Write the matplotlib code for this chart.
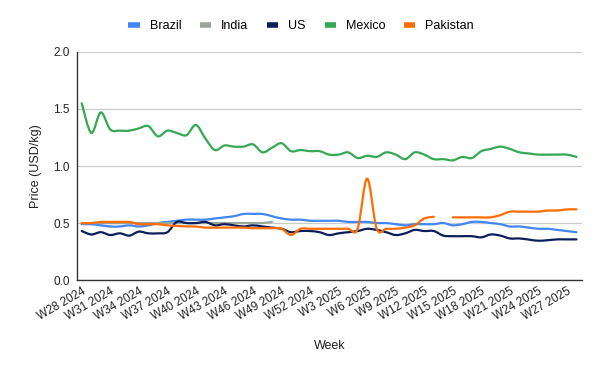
import numpy as np
import matplotlib
matplotlib.use("Agg")
import matplotlib.pyplot as plt
from matplotlib.path import Path
from matplotlib.patches import PathPatch
from matplotlib.lines import Line2D

# weekly prices, W28 2024 .. W28 2025
weeks = [f"W{w} 2024" for w in range(28, 53)] + [f"W{w} 2025" for w in range(1, 29)]

brazil = [0.49, 0.49, 0.48, 0.47, 0.47, 0.48, 0.47, 0.48, 0.50, 0.51,
          0.52, 0.53, 0.53, 0.53, 0.54, 0.55, 0.56, 0.58, 0.58, 0.58,
          0.56, 0.54, 0.53, 0.53, 0.52, 0.52, 0.52, 0.52, 0.51, 0.51,
          0.51, 0.50, 0.50, 0.49, 0.48, 0.49, 0.49, 0.49, 0.50, 0.48,
          0.49, 0.51, 0.51, 0.50, 0.49, 0.47, 0.47, 0.46, 0.45, 0.45,
          0.44, 0.43, 0.42]
india = [0.50, 0.50, 0.50, 0.50, 0.50, 0.50, 0.50, 0.50, 0.50, 0.50,
         0.50, 0.50, 0.50, 0.50, 0.50, 0.50, 0.50, 0.50, 0.50, 0.50,
         0.51] + [np.nan] * 32
us = [0.43, 0.40, 0.42, 0.395, 0.41, 0.39, 0.425, 0.41, 0.41, 0.42,
      0.51, 0.50, 0.50, 0.51, 0.48, 0.49, 0.48, 0.47, 0.48, 0.47,
      0.46, 0.45, 0.42, 0.43, 0.43, 0.42, 0.395, 0.41, 0.42, 0.43,
      0.45, 0.44, 0.42, 0.395, 0.41, 0.44, 0.43, 0.43, 0.39, 0.385,
      0.385, 0.385, 0.375, 0.40, 0.39, 0.365, 0.365, 0.355, 0.345, 0.35,
      0.357, 0.357, 0.357]
mexico = [1.55, 1.29, 1.47, 1.32, 1.31, 1.31, 1.33, 1.35, 1.26, 1.31,
          1.29, 1.27, 1.36, 1.24, 1.14, 1.18, 1.17, 1.17, 1.19, 1.12,
          1.16, 1.20, 1.13, 1.14, 1.13, 1.13, 1.10, 1.10, 1.12, 1.07,
          1.09, 1.08, 1.12, 1.10, 1.06, 1.12, 1.10, 1.06, 1.06, 1.05,
          1.08, 1.07, 1.13, 1.15, 1.17, 1.15, 1.12, 1.11, 1.10, 1.10,
          1.10, 1.10, 1.08]
pakistan = [0.50, 0.50, 0.51, 0.51, 0.51, 0.51, 0.49, 0.49, 0.49, 0.48,
            0.475, 0.47, 0.47, 0.46, 0.46, 0.46, 0.46, 0.46, 0.455, 0.455,
            0.455, 0.45, 0.395, 0.45, 0.45, 0.45, 0.45, 0.45, 0.45, 0.45,
            0.89, 0.45, 0.45, 0.45, 0.46, 0.48, 0.54, 0.555, np.nan, 0.55,
            0.55, 0.55, 0.55, 0.55, 0.57, 0.60, 0.60, 0.60, 0.60, 0.61,
            0.61, 0.62, 0.62]

series = [
    ("Brazil", brazil, "#4285f4"),
    ("India", india, "#9aa69a"),
    ("US", us, "#0b1e5b"),
    ("Mexico", mexico, "#34a853"),
    ("Pakistan", pakistan, "#ff6d01"),
]


def smooth_path(x, y):
    '''bezier path through the points (catmull-rom style), split at gaps'''
    verts, codes = [], []
    ok = ~np.isnan(y)
    i = 0
    n = len(y)
    while i < n:
        if not ok[i]:
            i += 1
            continue
        j = i
        while j < n and ok[j]:
            j += 1
        px, py = x[i:j], y[i:j]
        verts.append((px[0], py[0]))
        codes.append(Path.MOVETO)
        for k in range(len(px) - 1):
            k0 = max(k - 1, 0)
            k3 = min(k + 2, len(px) - 1)
            c1 = (px[k] + (px[k + 1] - px[k0]) / 6, py[k] + (py[k + 1] - py[k0]) / 6)
            c2 = (px[k + 1] - (px[k3] - px[k]) / 6, py[k + 1] - (py[k3] - py[k]) / 6)
            verts += [c1, c2, (px[k + 1], py[k + 1])]
            codes += [Path.CURVE4] * 3
        i = j
    return Path(verts, codes)


plt.rcParams['font.family'] = ['Liberation Sans', 'DejaVu Sans']

fig = plt.figure(figsize=(6, 3.71), dpi=100)
ax = fig.add_axes([0.128, 0.245, 0.842, 0.615])

x = np.arange(len(weeks), dtype=float)
for name, vals, color in series:
    p = smooth_path(x, np.array(vals, dtype=float))
    ax.add_patch(PathPatch(p, facecolor='none', edgecolor=color, lw=1.6,
                           capstyle='round', joinstyle='round'))

ax.set_xlim(-0.52, len(weeks) - 1 + 0.58)
ax.set_ylim(0, 2.0)
ax.set_yticks([0, 0.5, 1.0, 1.5, 2.0])
ax.set_yticklabels(['0.0', '0.5', '1.0', '1.5', '2.0'])
ticks = list(range(0, len(weeks), 3))
ax.set_xticks(ticks)
ax.set_xticklabels([weeks[t] for t in ticks], rotation=30, ha='right',
                   rotation_mode='anchor')
ax.tick_params(length=0, labelsize=8.5, colors='#222222', pad=5)
ax.tick_params(axis='x', pad=4)

ax.grid(axis='y', color='#cccccc', lw=0.9)
ax.set_axisbelow(True)
for s in ['top', 'right']:
    ax.spines[s].set_visible(False)
ax.spines['left'].set_color('#333333')
ax.spines['bottom'].set_color('#333333')
ax.spines['left'].set_linewidth(1)
ax.spines['bottom'].set_linewidth(1)

ax.set_xlabel('Week', fontsize=9, color='#222222', labelpad=12)
ax.set_ylabel('Price (USD/kg)', fontsize=9, color='#222222', labelpad=8)

handles = [Line2D([], [], color=c, lw=4, solid_capstyle='butt') for _, _, c in series]
fig.legend(handles, [s[0] for s in series], loc='center', bbox_to_anchor=(0.502, 0.93),
           ncol=5, frameon=False, fontsize=9, handlelength=0.9, handletextpad=0.8,
           columnspacing=1.5)

fig.savefig('out.png', dpi=100)
